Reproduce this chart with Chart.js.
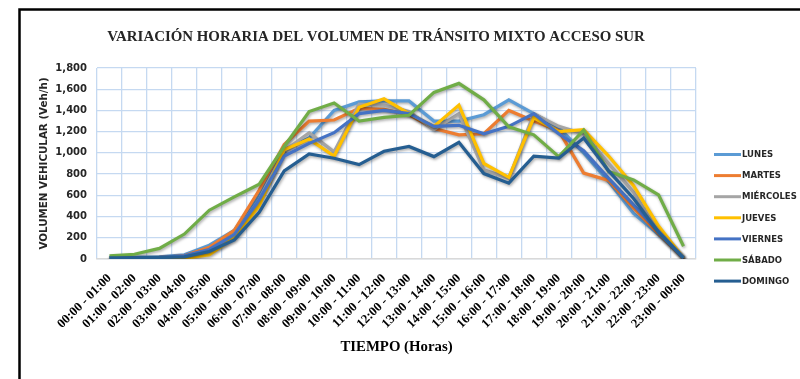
<!DOCTYPE html>
<html>
<head>
<meta charset="utf-8">
<script src="https://cdn.jsdelivr.net/npm/chart.js@4.4.1/dist/chart.umd.min.js"></script>
<style>
    html, body { margin: 0; padding: 0; background: #fff; }
    #wrap { width: 800px; height: 379px; }
</style>
</head>
<body>
<div id="wrap"><canvas id="transitoChart" width="800" height="379"></canvas></div>
<script>

// ==========================
// DATOS
// ==========================

const horas = [
    '00:00 - 01:00', '01:00 - 02:00', '02:00 - 03:00', '03:00 - 04:00',
    '04:00 - 05:00', '05:00 - 06:00', '06:00 - 07:00', '07:00 - 08:00',
    '08:00 - 09:00', '09:00 - 10:00', '10:00 - 11:00', '11:00 - 12:00',
    '12:00 - 13:00', '13:00 - 14:00', '14:00 - 15:00', '15:00 - 16:00',
    '16:00 - 17:00', '17:00 - 18:00', '18:00 - 19:00', '19:00 - 20:00',
    '20:00 - 21:00', '21:00 - 22:00', '22:00 - 23:00', '23:00 - 00:00'
];

const dias    = ['LUNES', 'MARTES', 'MIÉRCOLES', 'JUEVES', 'VIERNES', 'SÁBADO', 'DOMINGO'];
const colores = ['#5B9BD5', '#ED7D31', '#A5A5A5', '#FFC000', '#4472C4', '#70AD47', '#255E91'];

const lunes     = [15, 15, 20, 40, 130, 270, 600, 1030, 1140, 1400, 1480, 1490, 1490, 1300, 1300, 1360, 1500, 1370, 1240, 1000, 730, 430, 230, 15];
const martes    = [5, 10, 15, 30, 110, 270, 650, 1080, 1300, 1310, 1420, 1410, 1360, 1230, 1170, 1180, 1400, 1300, 1210, 810, 740, 480, 240, 10];
const miercoles = [10, 10, 10, 20, 80, 230, 560, 1020, 1190, 1010, 1460, 1450, 1390, 1220, 1370, 840, 760, 1370, 1250, 1180, 900, 630, 250, 10];
const jueves    = [0, 0, 0, 5, 40, 200, 500, 1030, 1130, 970, 1430, 1510, 1370, 1250, 1450, 900, 770, 1330, 1200, 1220, 970, 690, 310, 10];
const viernes   = [10, 10, 15, 30, 90, 230, 560, 970, 1090, 1190, 1370, 1400, 1370, 1250, 1260, 1180, 1250, 1370, 1180, 1020, 760, 510, 260, 10];
const sabado    = [30, 45, 100, 235, 460, 585, 705, 1060, 1390, 1470, 1300, 1335, 1355, 1570, 1655, 1500, 1245, 1170, 965, 1215, 825, 745, 605, 120];
const domingo   = [10, 10, 15, 20, 70, 180, 440, 830, 990, 950, 890, 1015, 1060, 965, 1100, 805, 715, 970, 950, 1140, 830, 570, 250, 10];

const series = [lunes, martes, miercoles, jueves, viernes, sabado, domingo];

const titulo = 'VARIACIÓN HORARIA DEL VOLUMEN DE TRÁNSITO MIXTO ACCESO SUR';

const serif = '"Liberation Serif", "Times New Roman", serif';
const sans  = '"DejaVu Sans", Verdana, sans-serif';
const rejilla = '#C5D9F1';

// ==========================
// PLUGINS
// ==========================

// sombra suave bajo cada línea
const sombra = {
    id: 'sombra',
    beforeDatasetDraw(chart) {
        const ctx = chart.ctx;
        ctx.save();
        ctx.shadowColor = 'rgba(0, 0, 0, 0.35)';
        ctx.shadowBlur = 3;
        ctx.shadowOffsetX = 1;
        ctx.shadowOffsetY = 1.5;
    },
    afterDatasetDraw(chart) {
        chart.ctx.restore();
    }
};

// marco, título y leyenda a la derecha
const marco = {
    id: 'marco',
    beforeDraw(chart) {
        const ctx = chart.ctx;
        ctx.save();
        ctx.fillStyle = '#fff';
        ctx.fillRect(0, 0, chart.width, chart.height);
        ctx.restore();
    },
    afterDraw(chart) {
        const ctx = chart.ctx;
        ctx.save();

        ctx.lineWidth = 2.5;
        ctx.strokeStyle = '#000';
        ctx.strokeRect(19.5, 9.5, 1000, 1000);

        ctx.fillStyle = '#262626';
        ctx.font = 'bold 14.9px ' + serif;
        ctx.textAlign = 'center';
        ctx.textBaseline = 'alphabetic';
        ctx.fillText(titulo, 376, 41);

        ctx.font = 'bold 8.5px ' + sans;
        ctx.textAlign = 'left';
        ctx.textBaseline = 'middle';
        chart.data.datasets.forEach((ds, i) => {
            const y = 154.5 + i * 21.1;
            ctx.strokeStyle = ds.borderColor;
            ctx.lineWidth = 3;
            ctx.beginPath();
            ctx.moveTo(714, y);
            ctx.lineTo(741, y);
            ctx.stroke();
            ctx.fillStyle = '#262626';
            ctx.fillText(ds.label, 742, y + 0.5);
        });

        ctx.restore();
    }
};

// ==========================
// GRÁFICO
// ==========================

new Chart(document.getElementById('transitoChart'), {
    type: 'line',
    data: {
        labels: horas,
        datasets: dias.map((dia, i) => ({
            label: dia,
            data: series[i],
            borderColor: colores[i],
            backgroundColor: colores[i],
            borderWidth: 3.2,
            pointRadius: 0,
            tension: 0,
            order: dias.length - i
        }))
    },
    options: {
        responsive: false,
        animation: false,
        layout: {
            padding: { left: 30, top: 68, right: 104, bottom: 0 }
        },
        plugins: {
            legend: { display: false },
            tooltip: { enabled: false }
        },
        scales: {
            x: {
                offset: true,
                grid: { color: rejilla, lineWidth: 1.3, offset: true, drawTicks: false },
                border: { color: '#D9D9D9', width: 1.5 },
                ticks: {
                    autoSkip: false,
                    minRotation: 45,
                    maxRotation: 45,
                    padding: 12,
                    color: '#000',
                    font: { family: serif, weight: 'bold', size: 12.8 }
                },
                title: {
                    display: true,
                    text: 'TIEMPO (Horas)',
                    color: '#000',
                    font: { family: serif, weight: 'bold', size: 14.8 },
                    padding: { top: 0, bottom: 23 }
                },
                afterFit(scale) {
                    scale.height = 120;
                }
            },
            y: {
                min: 0,
                max: 1800,
                grid: { color: rejilla, lineWidth: 1.3, drawTicks: false },
                border: { display: false },
                ticks: {
                    stepSize: 200,
                    padding: 10,
                    color: '#262626',
                    font: { family: sans, weight: 'bold', size: 10 },
                    callback: v => v.toLocaleString('en-US')
                },
                title: {
                    display: true,
                    text: 'VOLUMEN VEHICULAR (Veh/h)',
                    color: '#262626',
                    font: { family: sans, weight: 'bold', size: 10.3 },
                    padding: { top: 8, bottom: 0 }
                },
                afterFit(scale) {
                    scale.width = 67;
                }
            }
        }
    },
    plugins: [sombra, marco]
});

</script>
</body>
</html>
